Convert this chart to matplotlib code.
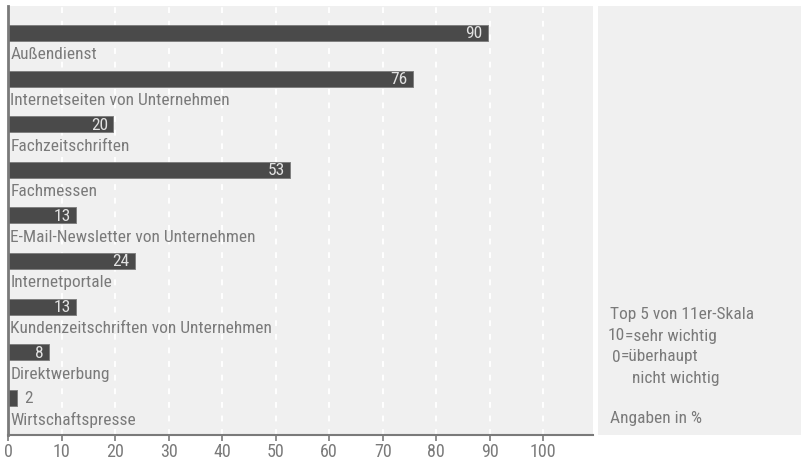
import matplotlib.pyplot as plt
from matplotlib import font_manager

# Data
categories = ['Außendienst', 'Internetseiten von Unternehmen', 'Fachzeitschriften',
              'Fachmessen', 'E-Mail-Newsletter von Unternehmen', 'Internetportale',
              'Kundenzeitschriften von Unternehmen', 'Direktwerbung', 'Wirtschaftspresse']
values = [90, 76, 20, 53, 13, 24, 13, 8, 2]
ticks = [0, 10, 20, 30, 40, 50, 60, 70, 80, 90, 100]

# a condensed face if one is around, else the default
names = {f.name for f in font_manager.fontManager.ttflist}
font = 'DejaVu Sans'
for cand in ['Roboto Condensed', 'Archivo Narrow', 'PT Sans Narrow',
             'Liberation Sans Narrow', 'Barlow Condensed', 'Fira Sans Condensed']:
    if cand in names:
        font = cand
        break
plt.rcParams['font.family'] = [font, 'DejaVu Sans']
fs = 12.5 if font != 'DejaVu Sans' else 11

txt = '#7a7a7a'
bg = '#f0f0f0'
bar_c = '#4a4a4a'

fig = plt.figure(figsize=(8.01, 4.65), dpi=100, facecolor='white')
ax = fig.add_axes((8 / 801, 1 - 435 / 465, 585 / 801, 429 / 465))
ax.set_facecolor(bg)

ax.set_xlim(0, 109.3)
ax.set_ylim(8.816, -0.592)

for x in ticks[1:]:
    ax.axvline(x, color='white', lw=1.4, ls=(0, (3, 4)), zorder=1)

for i, (c, v) in enumerate(zip(categories, values)):
    ax.barh(i, v - 0.3, height=0.35, color=bar_c, edgecolor='#808080', lw=0.7, zorder=2)
    if v >= 5:
        ax.text(v - 1.3, i + 0.02, str(v), ha='right', va='center', color='#e2e2e2',
                fontsize=fs, zorder=3)
    else:
        ax.text(v + 1.0, i + 0.02, str(v), ha='left', va='center', color=txt,
                fontsize=fs, zorder=3)
    ax.text(0.45, i + 0.48, c, ha='left', va='center', color=txt, fontsize=fs, zorder=3)

for s in ['top', 'right']:
    ax.spines[s].set_visible(False)
ax.spines['left'].set_color('#7a7a7a')
ax.spines['left'].set_linewidth(2)
ax.spines['bottom'].set_color('#7a7a7a')
ax.spines['bottom'].set_linewidth(1.5)

ax.set_yticks([])
ax.set_xticks(ticks)
ax.tick_params(axis='x', direction='out', length=4, width=1.2, color='#7a7a7a',
               labelcolor=txt, labelsize=fs + 0.5, pad=2)

# Right info panel
side = fig.add_axes((598 / 801, 1 - 435 / 465, 203 / 801, 429 / 465))
side.set_facecolor(bg)
side.set_xticks([])
side.set_yticks([])
for s in side.spines.values():
    s.set_visible(False)

def ptxt(x, y, s, ha='left'):
    fig.text(x / 801, 1 - y / 465, s, ha=ha, va='center', color=txt, fontsize=fs)

ptxt(610, 315, 'Top 5 von 11er-Skala')
ptxt(625, 336, '10', ha='right')
ptxt(625, 336, '=sehr wichtig')
ptxt(621, 357, '0', ha='right')
ptxt(621, 357, '=überhaupt')
ptxt(632, 378, 'nicht wichtig')
ptxt(610, 418, 'Angaben in %')

fig.savefig('out.png', dpi=100, facecolor='white')
